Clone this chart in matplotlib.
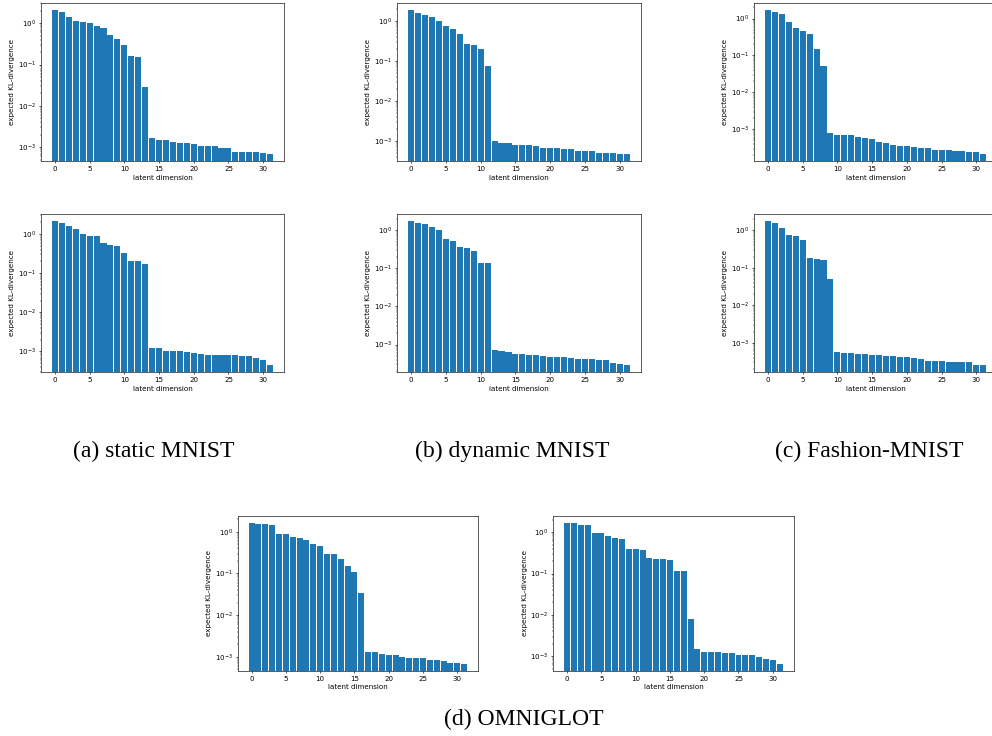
import matplotlib
matplotlib.use("Agg")
import matplotlib.pyplot as plt
import numpy as np

dims = list(range(32))

static_mnist_1 = [2.1, 1.88, 1.45, 1.14, 1.08, 1.02, 0.88, 0.77, 0.53, 0.42, 0.30, 0.162,
                  0.153, 0.029, 0.00162, 0.00151, 0.00151, 0.00135, 0.00127, 0.00127, 0.0012,
                  0.00107, 0.00104, 0.00104, 0.00098, 0.00098, 0.00078, 0.00078, 0.00078,
                  0.00078, 0.00073, 0.00069]
dynamic_mnist_1 = [1.92, 1.62, 1.44, 1.28, 1.02, 0.76, 0.64, 0.48, 0.27, 0.256, 0.203, 0.076,
                   0.00102, 0.00091, 0.00091, 0.00081, 0.00081, 0.00081, 0.00076, 0.00068,
                   0.00068, 0.00068, 0.00064, 0.00064, 0.00057, 0.00057, 0.00057, 0.00051,
                   0.00051, 0.00051, 0.00048, 0.00048]
fashion_mnist_1 = [1.72, 1.52, 1.34, 0.81, 0.56, 0.46, 0.38, 0.149, 0.051, 0.00081, 0.00072,
                   0.00068, 0.00068, 0.00063, 0.00059, 0.00053, 0.00046, 0.00043, 0.00038,
                   0.00036, 0.00036, 0.00034, 0.00032, 0.00032, 0.00028, 0.00028, 0.00028,
                   0.00026, 0.00026, 0.000246, 0.000246, 0.000217]
static_mnist_2 = [2.1, 1.87, 1.57, 1.31, 0.98, 0.87, 0.87, 0.58, 0.51, 0.485, 0.32, 0.2, 0.2,
                  0.169, 0.00122, 0.00122, 0.00102, 0.00102, 0.00102, 0.00096, 0.00091,
                  0.00086, 0.00081, 0.00081, 0.00081, 0.00081, 0.00081, 0.00076, 0.00076,
                  0.00068, 0.0006, 0.00045]
dynamic_mnist_2 = [1.69, 1.56, 1.41, 1.17, 0.98, 0.57, 0.53, 0.37, 0.33, 0.29, 0.141, 0.133,
                   0.00072, 0.00068, 0.00064, 0.00057, 0.00057, 0.00054, 0.00054, 0.0005,
                   0.00047, 0.00047, 0.00047, 0.00045, 0.00042, 0.00042, 0.00042, 0.0004,
                   0.0004, 0.00033, 0.00031, 0.00029]
fashion_mnist_2 = [1.74, 1.54, 1.13, 0.74, 0.69, 0.54, 0.18, 0.169, 0.159, 0.0497, 0.000565,
                   0.00053, 0.00053, 0.0005, 0.0005, 0.00047, 0.00047, 0.00044, 0.00044,
                   0.00042, 0.00042, 0.00039, 0.00037, 0.00033, 0.00033, 0.00033, 0.00031,
                   0.00031, 0.00031, 0.00031, 0.000255, 0.000255]
omniglot_1 = [1.64, 1.56, 1.56, 1.47, 0.9, 0.9, 0.76, 0.72, 0.64, 0.52, 0.46, 0.3, 0.3, 0.225,
              0.153, 0.11, 0.0344, 0.00132, 0.00132, 0.00118, 0.00112, 0.00112, 0.001,
              0.00095, 0.00095, 0.00095, 0.00085, 0.00085, 0.0008, 0.00072, 0.00072, 0.00068]
omniglot_2 = [1.68, 1.68, 1.5, 1.5, 0.96, 0.96, 0.82, 0.73, 0.69, 0.4, 0.4, 0.375, 0.24,
              0.227, 0.227, 0.215, 0.117, 0.117, 0.0081, 0.00153, 0.00129, 0.00129, 0.00129,
              0.00122, 0.00122, 0.0011, 0.0011, 0.0011, 0.00098, 0.00088, 0.00083, 0.00066]

captions = ["(a) static MNIST", "(b) dynamic MNIST", "(c) Fashion-MNIST", "(d) OMNIGLOT"]
xlabel = "latent dimension"
ylabel = "expected KL-divergence"

plt.rcParams.update({
    "font.family": "DejaVu Sans",
    "font.size": 5.1,
    "axes.linewidth": 0.45,
    "axes.labelpad": 2.0,
    "xtick.major.size": 1.75, "xtick.major.width": 0.45, "xtick.major.pad": 1.75,
    "ytick.major.size": 1.75, "ytick.major.width": 0.45, "ytick.major.pad": 1.75,
    "xtick.minor.size": 1.0, "xtick.minor.width": 0.35,
    "ytick.minor.size": 1.0, "ytick.minor.width": 0.35,
})

W, H = 992, 736
fig = plt.figure(figsize=(W / 100, H / 100), dpi=100)

def box(l, t, r, b):
    return [l / W, 1 - b / H, (r - l) / W, (b - t) / H]

panels = [
    (static_mnist_1, box(40.8, 2.7, 284.2, 161)),
    (dynamic_mnist_1, box(396.7, 2.7, 641.2, 161)),
    (fashion_mnist_1, box(753.8, 2.7, 997.4, 161)),
    (static_mnist_2, box(40.8, 214.2, 284.2, 372.2)),
    (dynamic_mnist_2, box(396.7, 214.2, 641.2, 372.2)),
    (fashion_mnist_2, box(753.8, 214.2, 997.4, 372.2)),
    (omniglot_1, box(237.7, 515.8, 478.1, 670.8)),
    (omniglot_2, box(553.3, 515.8, 793.5, 670.8)),
]

for vals, rect in panels:
    ax = fig.add_axes(rect)
    ax.bar(dims, vals, width=0.87, color="#1f77b4")
    ax.set_yscale("log")
    ax.set_xlabel(xlabel)
    ax.set_ylabel(ylabel)

cap_style = dict(family="Liberation Serif", fontsize=17, ha="center", va="baseline", color="black")
fig.text(154 / W, 1 - 457 / H, captions[0], **cap_style)
fig.text(512 / W, 1 - 457 / H, captions[1], **cap_style)
fig.text(869 / W, 1 - 457 / H, captions[2], **cap_style)
fig.text(524 / W, 1 - 725 / H, captions[3], **cap_style)

fig.savefig("out.png", dpi=100)
